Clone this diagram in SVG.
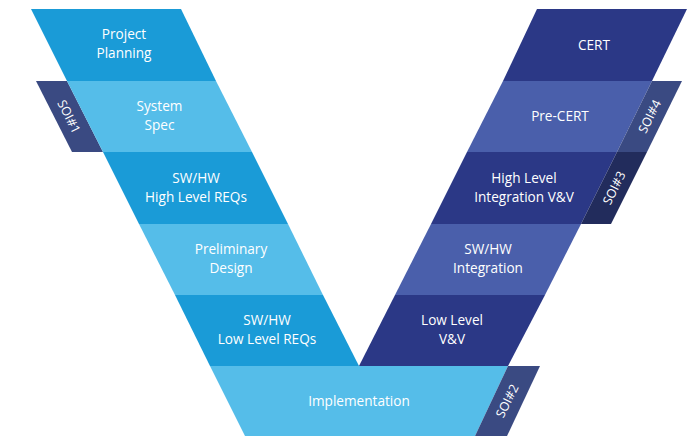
<svg xmlns="http://www.w3.org/2000/svg" width="699" height="436" viewBox="0 0 699 436">
<style>
.t{font-family:"Open Sans","Liberation Sans",sans-serif;font-size:13.6px;fill:#ffffff;text-anchor:middle}
.s{font-family:"Open Sans","Liberation Sans",sans-serif;font-size:12.5px;fill:#ffffff;text-anchor:middle}
.mb{fill:#1a9bd7}
.lb{fill:#55bde9}
.dn{fill:#2b3886}
.mn{fill:#4a5fab}
.tab{fill:#3a4a82}
.tabd{fill:#222c5c}
</style>
<rect width="699" height="436" fill="#ffffff"/>
<g id="soi1">
<polygon class="tab" points="36,81 67,81 103,152 72,152"/>
<text class="s" transform="translate(69,116.5) rotate(63.43)" y="4.5">SOI#1</text>
</g>
<g id="project-planning">
<polygon class="mb" points="31,9 181,9 216,81 67,81"/>
<text class="t" x="124" y="39">Project</text>
<text class="t" x="124" y="57.6">Planning</text>
</g>
<g id="system-spec">
<polygon class="lb" points="67,81 216,81 252,152 103,152"/>
<text class="t" x="159.5" y="111">System</text>
<text class="t" x="159.5" y="129.6">Spec</text>
</g>
<g id="hl-reqs">
<polygon class="mb" points="103,152 252,152 288,224 139,224"/>
<text class="t" x="196" y="183">SW/HW</text>
<text class="t" x="196" y="201.6">High Level REQs</text>
</g>
<g id="preliminary-design">
<polygon class="lb" points="139,224 288,224 323,295 175,295"/>
<text class="t" x="231" y="254">Preliminary</text>
<text class="t" x="231" y="272.6">Design</text>
</g>
<g id="ll-reqs">
<polygon class="mb" points="175,295 323,295 359,366 210,366"/>
<text class="t" x="267" y="325">SW/HW</text>
<text class="t" x="267" y="343.6">Low Level REQs</text>
</g>
<g id="implementation">
<polygon class="lb" points="210,366 508,366 475,436 245,436"/>
<text class="t" x="359" y="406">Implementation</text>
</g>
<g id="soi2">
<polygon class="tab" points="508,366 540,366 507,436 475,436"/>
<text class="s" transform="translate(507,401) rotate(-63.43)" y="4.5">SOI#2</text>
</g>
<g id="ll-vv">
<polygon class="dn" points="395,295 545,295 508,366 359,366"/>
<text class="t" x="452" y="325">Low Level</text>
<text class="t" x="452" y="343.6">V&amp;V</text>
</g>
<g id="hw-integration">
<polygon class="mn" points="431,224 581,224 545,295 395,295"/>
<text class="t" x="488" y="254">SW/HW</text>
<text class="t" x="488" y="272.6">Integration</text>
</g>
<g id="hl-integration">
<polygon class="dn" points="467,152 617,152 581,224 431,224"/>
<text class="t" x="524" y="183">High Level</text>
<text class="t" x="524" y="201.6">Integration V&amp;V</text>
</g>
<g id="soi3">
<polygon class="tabd" points="617,152 647,152 611,224 581,224"/>
<text class="s" transform="translate(614,188) rotate(-63.43)" y="4.5">SOI#3</text>
</g>
<g id="pre-cert">
<polygon class="mn" points="503,81 652,81 617,152 467,152"/>
<text class="t" x="560" y="121">Pre-CERT</text>
</g>
<g id="soi4">
<polygon class="tab" points="652,81 682,81 647,152 617,152"/>
<text class="s" transform="translate(649.5,116.5) rotate(-63.43)" y="4.5">SOI#4</text>
</g>
<g id="cert">
<polygon class="dn" points="537,9 687,9 652,81 503,81"/>
<text class="t" x="594" y="50">CERT</text>
</g>
</svg>
